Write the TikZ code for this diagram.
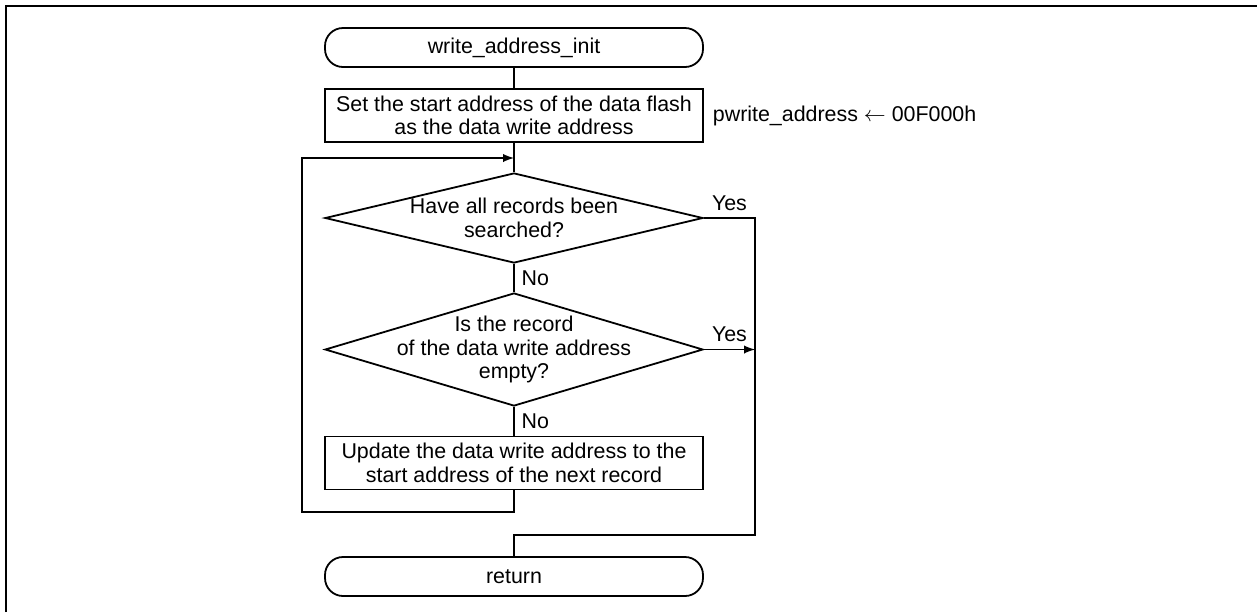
\documentclass[tikz,border=0pt]{standalone}
\usepackage{fontspec}
\setmainfont{Liberation Sans}
\usetikzlibrary{shapes.geometric}

\begin{document}
\begin{tikzpicture}
  [x=0.5pt,y=-0.5pt,line width=0.9pt,>=latex,
   every node/.style={font=\fontsize{10.7}{11.8}\selectfont},
   term/.style={draw,rectangle,rounded corners=9pt,minimum width=189pt,minimum height=19.5pt,inner sep=0pt},
   proc/.style={draw,rectangle,minimum width=189pt,minimum height=26.5pt,inner sep=0pt,align=center},
   decide/.style={draw,diamond,minimum width=189pt,inner sep=0pt}]
  \useasboundingbox (0,0) rectangle (1257,612);
  \draw[line width=1.3pt] (6,612) -- (6,6) -- (1257,6);

  \node[term] (start) at (514,47.5) {write\_address\_init};
  \node[proc] (set) at (514,115.5) {Set the start address of the data flash\\as the data write address};
  \node[anchor=west,inner sep=0pt] (note) at (712,116) {pwrite\_address $\leftarrow$ 00F000h};
  \node[decide,minimum height=45pt,label={[align=center]center:Have all records been\\searched?}] (d1) at (514,218) {};
  \node[decide,minimum height=56.5pt,label={[align=center]center:Is the record\\of the data write address\\empty?}] (d2) at (514,349.5) {};
  \node[proc] (upd) at (514,463) {Update the data write address to the\\start address of the next record};
  \node[term] (ret) at (514,576.5) {return};

  \coordinate (lpbot) at (302,512);
  \coordinate (join) at (514,158);
  \coordinate (merge) at (755,535);

  \draw (start) -- (set);
  \draw (set) -- (d1);
  \draw (d1) -- node[right] {No} (d2);
  \draw (d2) -- node[right] {No} (upd);
  \draw[->] (upd.south) |- (lpbot) |- (join);
  \draw (d1.east) -| node[above,pos=0.25] {Yes} (merge) -| (ret.north);
  \draw[->] (d2.east) -- node[above] {Yes} (d2.east -| merge);
\end{tikzpicture}
\end{document}
